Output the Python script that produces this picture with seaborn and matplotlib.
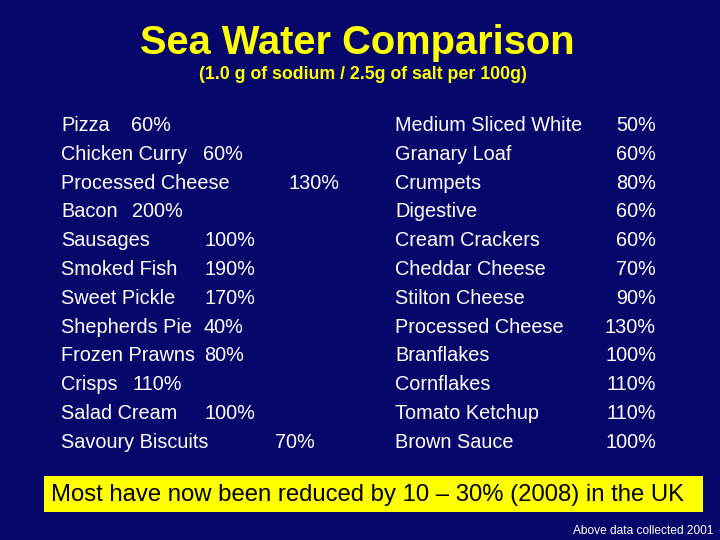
import seaborn as sns
import matplotlib
matplotlib.use('Agg')
from matplotlib import pyplot as plt
from matplotlib.patches import Rectangle

# left column foods and % of sea water salt level
left_foods = ['Pizza', 'Chicken Curry', 'Processed Cheese', 'Bacon', 'Sausages',
              'Smoked Fish', 'Sweet Pickle', 'Shepherds Pie', 'Frozen Prawns',
              'Crisps', 'Salad Cream', 'Savoury Biscuits']
left_pct = [60, 60, 130, 200, 100, 190, 170, 40, 80, 110, 100, 70]

# right column foods
right_foods = ['Medium Sliced White', 'Granary Loaf', 'Crumpets', 'Digestive',
               'Cream Crackers', 'Cheddar Cheese', 'Stilton Cheese',
               'Processed Cheese', 'Branflakes', 'Cornflakes', 'Tomato Ketchup',
               'Brown Sauce']
right_pct = [50, 60, 80, 60, 60, 70, 90, 130, 100, 110, 110, 100]

title = 'Sea Water Comparison'
subtitle = '(1.0 g of sodium / 2.5g of salt per 100g)'
note = 'Most have now been reduced by 10 \u2013 30% (2008) in the UK'
footer = 'Above data collected 2001'

# tab stops used on the slide for the left column percentages (pixels)
left_tabs = [131, 203, 288, 132, 204, 204, 204, 204, 204, 132, 204, 275]

bg = '#07076b'
yellow = '#ffff00'

sns.set_theme(style='white', rc={'figure.facecolor': bg, 'axes.facecolor': bg})
plt.rcParams['font.family'] = ['Liberation Sans', 'DejaVu Sans']

fig = plt.figure(figsize=(7.2, 5.4), dpi=100)
ax = fig.add_axes([0, 0, 1, 1])
ax.set_xlim(0, 720)
ax.set_ylim(540, 0)
ax.axis('off')

ax.text(357, 54, title, color=yellow, fontsize=28.7, fontweight='bold',
        ha='center', va='baseline')
ax.text(363, 79, subtitle, color=yellow, fontsize=12.8, fontweight='bold',
        ha='center', va='baseline')

fs = 14.3
row0, step = 131, 28.8
for i, (name, pct) in enumerate(zip(left_foods, left_pct)):
    y = row0 + step * i
    ax.text(61, y, name, color='white', fontsize=fs, va='baseline')
    ax.text(left_tabs[i], y, f'{pct}%', color='white', fontsize=fs, va='baseline')

for i, (name, pct) in enumerate(zip(right_foods, right_pct)):
    y = row0 + step * i
    ax.text(395, y, name, color='white', fontsize=fs, va='baseline')
    ax.text(656, y, f'{pct}%', color='white', fontsize=fs, ha='right', va='baseline')

ax.add_patch(Rectangle((44, 476), 659, 36, facecolor=yellow, edgecolor='none'))
ax.text(51, 501, note, color='black', fontsize=17.2, va='baseline')

ax.text(713, 534, footer, color='white', fontsize=8.6, ha='right', va='baseline')

fig.savefig('out.png', dpi=100, facecolor=bg)
